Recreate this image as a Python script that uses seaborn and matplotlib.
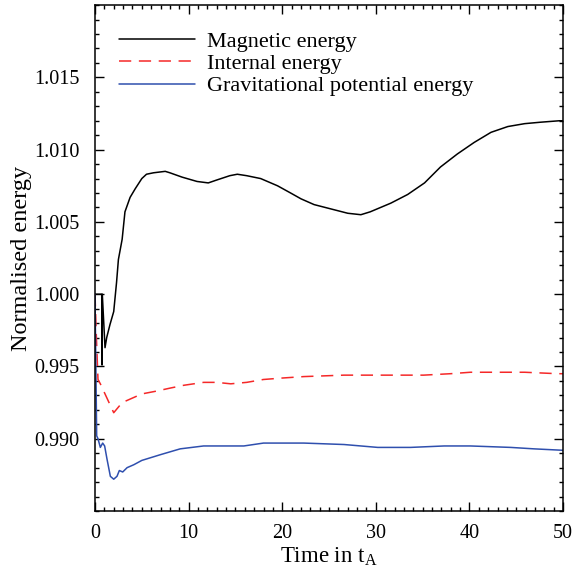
import numpy as np
import pandas as pd
import matplotlib
matplotlib.use("Agg")
import matplotlib.pyplot as plt
import seaborn as sns

# Data (time in t_A, normalised energy)
t_mag = [0, 0.4, 0.72, 0.75, 0.78, 1.07, 1.25, 1.6, 2.0, 2.3, 2.5, 2.9, 3.2, 3.75,
         4.3, 5.0, 5.5, 6.25, 7.5, 8.0, 9.3, 10.9, 12.1, 13.0, 14.4, 15.2, 16.2,
         17.7, 19.5, 20.9, 22.0, 23.4, 25.2, 27.0, 28.4, 29.4, 31.6, 33.4, 35.2,
         36.9, 38.7, 40.5, 42.3, 44.1, 45.9, 47.6, 49.6, 50]
e_mag = [1.0000, 1.0000, 1.0000, 0.9951, 1.0000, 0.9963, 0.9970, 0.9979, 0.9988,
         1.0008, 1.0024, 1.0038, 1.0057, 1.0067, 1.0073, 1.0080, 1.0083, 1.0084,
         1.0085, 1.0084, 1.0081, 1.0078, 1.0077, 1.0079, 1.0082, 1.0083, 1.0082,
         1.0080, 1.0075, 1.0070, 1.0066, 1.0062, 1.0059, 1.0056, 1.0055, 1.0057,
         1.0063, 1.0069, 1.0077, 1.0088, 1.0097, 1.0105, 1.0112, 1.0116, 1.0118,
         1.0119, 1.0120, 1.0120]

t_int = [0, 0.15, 0.32, 0.57, 2.0, 2.9, 3.6, 5.0, 6.6, 8.0, 9.5, 11.6, 13.0, 14.5,
         16.2, 18.0, 20.0, 22.3, 26.6, 31.6, 35.1, 38.0, 40.1, 43.7, 45.9, 49.4, 50]
e_int = [1.0000, 0.9970, 0.9941, 0.9938, 0.9918, 0.9925, 0.9927, 0.9931, 0.9933,
         0.9935, 0.9937, 0.9939, 0.9939, 0.9938, 0.9939, 0.9941, 0.9942, 0.9943,
         0.9944, 0.9944, 0.9944, 0.9945, 0.9946, 0.9946, 0.9946, 0.9945, 0.9945]

t_grav = [0, 0.18, 0.32, 0.57, 0.82, 1.03, 1.28, 1.64, 2.0, 2.35, 2.6, 2.96, 3.43,
          4.14, 5.0, 7.0, 9.1, 11.6, 13.5, 15.9, 18.0, 22.3, 26.6, 30.2, 33.7,
          37.3, 40.1, 44.4, 46.9, 50]
e_grav = [1.0000, 0.9902, 0.9900, 0.9894, 0.9897, 0.9895, 0.9886, 0.9874, 0.9872,
          0.9874, 0.9878, 0.9877, 0.9880, 0.9882, 0.9885, 0.9889, 0.9893, 0.9895,
          0.9895, 0.9895, 0.9897, 0.9897, 0.9896, 0.9894, 0.9894, 0.9895, 0.9895,
          0.9894, 0.9893, 0.9892]

labels = ["Magnetic energy", "Internal energy", "Gravitational potential energy"]

df = pd.concat([
    pd.DataFrame({"t": t_mag, "e": e_mag, "kind": labels[0]}),
    pd.DataFrame({"t": t_int, "e": e_int, "kind": labels[1]}),
    pd.DataFrame({"t": t_grav, "e": e_grav, "kind": labels[2]}),
], ignore_index=True)

sns.set_style("ticks")
plt.rcParams["font.family"] = ["Liberation Serif", "DejaVu Serif"]
plt.rcParams["mathtext.fontset"] = "custom"
plt.rcParams["mathtext.rm"] = "Liberation Serif"
plt.rcParams["mathtext.it"] = "Liberation Serif:italic"
plt.rcParams["text.color"] = "black"
plt.rcParams["axes.labelcolor"] = "black"

fig = plt.figure(figsize=(5.74, 5.70), dpi=100)
ax = fig.add_axes([0.1655, 0.1035, 0.8155, 0.8875])

palette = {labels[0]: "black", labels[1]: "#f52828", labels[2]: "#2f4fae"}
dashes = {labels[0]: "", labels[1]: (8, 5), labels[2]: ""}
sns.lineplot(data=df, x="t", y="e", hue="kind", style="kind", palette=palette,
             dashes=dashes, estimator=None, sort=False, lw=1.1, ax=ax)

ax.set_xlim(0, 50)
ax.set_ylim(0.985, 1.020)
ax.set_xticks(np.arange(0, 51, 10))
ax.set_xticks(np.arange(0, 51, 1), minor=True)
ax.set_yticks([0.990, 0.995, 1.000, 1.005, 1.010, 1.015])
ax.set_yticklabels(["0.990", "0.995", "1.000", "1.005", "1.010", "1.015"])
ax.set_yticks(np.arange(0.985, 1.0201, 0.001), minor=True)
ax.tick_params(which="both", direction="in", top=True, right=True, width=1,
               labelsize=14.5, colors="black")
ax.tick_params(which="major", length=6.5)
ax.tick_params(axis="y", which="major", pad=11)
ax.tick_params(axis="x", which="major", pad=9)
ax.tick_params(which="minor", length=3.2)
for s in ax.spines.values():
    s.set_linewidth(1.1)
    s.set_color("black")

ax.set_xlabel("Time in t$_{\\mathrm{A}}$", fontsize=16.5, labelpad=2)
ax.set_ylabel("Normalised energy", fontsize=17.5, labelpad=2)

leg = ax.legend(loc="upper left", bbox_to_anchor=(0.033, 0.966), frameon=False,
                fontsize=16, handlelength=3.4, handletextpad=0.55, labelspacing=0.08,
                borderaxespad=0)
for txt in leg.get_texts():
    txt.set_color("black")

fig.savefig("out.png", dpi=100)
